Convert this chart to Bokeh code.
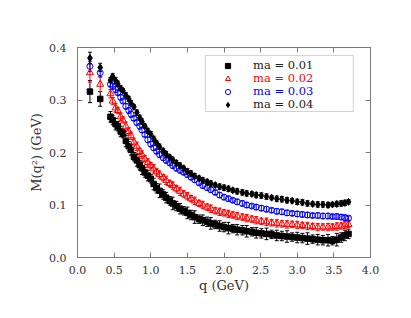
from bokeh.plotting import figure
from bokeh.models import (ColumnDataSource, Whisker, TeeHead, Legend, LegendItem,
                          LinearAxis, BoxAnnotation, Range1d, FixedTicker,
                          NumeralTickFormatter)
from bokeh.embed import file_html
from bokeh.resources import INLINE

# ---------------- data ----------------
q = [0.17, 0.31, 0.45, 0.48, 0.52, 0.55, 0.59, 0.62,
     0.66, 0.70, 0.73, 0.77, 0.81, 0.85, 0.88, 0.92,
     0.96, 1.00, 1.04, 1.08, 1.12, 1.17, 1.21, 1.26,
     1.30, 1.35, 1.40, 1.45, 1.50, 1.55, 1.60, 1.66,
     1.71, 1.77, 1.82, 1.88, 1.94, 2.00, 2.06, 2.12,
     2.18, 2.25, 2.31, 2.38, 2.44, 2.51, 2.58, 2.65,
     2.72, 2.79, 2.86, 2.93, 3.00, 3.07, 3.14, 3.21,
     3.28, 3.35, 3.42, 3.48, 3.54, 3.60, 3.65, 3.70]

m01 = [0.316, 0.302, 0.268, 0.262, 0.254, 0.250, 0.240, 0.236,
       0.222, 0.212, 0.205, 0.192, 0.185, 0.176, 0.170, 0.162,
       0.156, 0.150, 0.140, 0.132, 0.127, 0.120, 0.114, 0.108,
       0.103, 0.098, 0.093, 0.089, 0.085, 0.081, 0.077, 0.073,
       0.071, 0.068, 0.065, 0.063, 0.060, 0.058, 0.056, 0.055,
       0.053, 0.052, 0.050, 0.049, 0.047, 0.046, 0.045, 0.044,
       0.042, 0.041, 0.040, 0.039, 0.038, 0.037, 0.036, 0.035,
       0.034, 0.033, 0.033, 0.032, 0.034, 0.038, 0.042, 0.045]
e01 = [0.021, 0.014, 0.010, 0.009, 0.011, 0.009, 0.010, 0.008,
       0.011, 0.009, 0.010, 0.008, 0.011, 0.009, 0.012, 0.009,
       0.010, 0.008, 0.011, 0.009, 0.013, 0.009, 0.010, 0.008,
       0.012, 0.009, 0.010, 0.008, 0.011, 0.009, 0.012, 0.008,
       0.010, 0.009, 0.011, 0.008, 0.010, 0.009, 0.011, 0.008,
       0.010, 0.009, 0.011, 0.008, 0.010, 0.009, 0.011, 0.008,
       0.010, 0.009, 0.011, 0.008, 0.010, 0.009, 0.011, 0.008,
       0.010, 0.009, 0.011, 0.008, 0.012, 0.009, 0.010, 0.009]

m02 = [0.352, 0.330, 0.312, 0.298, 0.285, 0.280, 0.268, 0.262,
       0.250, 0.240, 0.232, 0.220, 0.212, 0.202, 0.196, 0.188,
       0.181, 0.175, 0.169, 0.163, 0.158, 0.152, 0.147, 0.141,
       0.137, 0.131, 0.126, 0.121, 0.117, 0.112, 0.108, 0.103,
       0.100, 0.096, 0.093, 0.089, 0.087, 0.085, 0.083, 0.081,
       0.079, 0.077, 0.075, 0.073, 0.071, 0.069, 0.068, 0.066,
       0.065, 0.064, 0.063, 0.063, 0.062, 0.061, 0.060, 0.059,
       0.058, 0.058, 0.058, 0.058, 0.059, 0.060, 0.062, 0.063]
e02 = [0.018, 0.014, 0.008, 0.007, 0.008, 0.006, 0.007, 0.006,
       0.008, 0.007, 0.007, 0.006, 0.008, 0.006, 0.007, 0.006,
       0.007, 0.006, 0.008, 0.006, 0.007, 0.006, 0.008, 0.006,
       0.007, 0.006, 0.008, 0.006, 0.007, 0.006, 0.007, 0.006,
       0.007, 0.006, 0.007, 0.006, 0.007, 0.006, 0.007, 0.006,
       0.007, 0.006, 0.007, 0.006, 0.007, 0.006, 0.007, 0.006,
       0.007, 0.006, 0.007, 0.006, 0.007, 0.006, 0.007, 0.006,
       0.007, 0.006, 0.007, 0.006, 0.007, 0.006, 0.007, 0.006]

m03 = [0.364, 0.352, 0.330, 0.326, 0.320, 0.314, 0.305, 0.298,
       0.288, 0.280, 0.273, 0.265, 0.257, 0.250, 0.243, 0.234,
       0.224, 0.216, 0.209, 0.202, 0.196, 0.190, 0.185, 0.180,
       0.175, 0.170, 0.166, 0.162, 0.158, 0.153, 0.148, 0.142,
       0.137, 0.133, 0.129, 0.124, 0.119, 0.115, 0.112, 0.109,
       0.106, 0.103, 0.100, 0.098, 0.096, 0.094, 0.092, 0.090,
       0.088, 0.087, 0.085, 0.084, 0.083, 0.082, 0.081, 0.080,
       0.080, 0.079, 0.079, 0.078, 0.078, 0.077, 0.076, 0.075]
e03 = [0.010, 0.008, 0.005, 0.005, 0.006, 0.005, 0.005, 0.004,
       0.005, 0.005, 0.006, 0.004, 0.005, 0.005, 0.005, 0.004,
       0.005, 0.005, 0.005, 0.004, 0.005, 0.005, 0.005, 0.004,
       0.005, 0.005, 0.005, 0.004, 0.005, 0.005, 0.005, 0.004,
       0.005, 0.005, 0.005, 0.004, 0.005, 0.005, 0.005, 0.004,
       0.005, 0.005, 0.005, 0.004, 0.005, 0.005, 0.005, 0.004,
       0.005, 0.005, 0.005, 0.004, 0.005, 0.005, 0.005, 0.004,
       0.005, 0.005, 0.005, 0.004, 0.005, 0.005, 0.005, 0.004]

m04 = [0.380, 0.362, 0.338, 0.345, 0.337, 0.331, 0.322, 0.318,
       0.309, 0.302, 0.294, 0.287, 0.276, 0.266, 0.259, 0.250,
       0.241, 0.235, 0.226, 0.218, 0.211, 0.203, 0.197, 0.191,
       0.186, 0.180, 0.175, 0.170, 0.164, 0.160, 0.155, 0.151,
       0.147, 0.144, 0.141, 0.138, 0.135, 0.133, 0.131, 0.128,
       0.126, 0.124, 0.122, 0.121, 0.119, 0.118, 0.116, 0.114,
       0.112, 0.111, 0.109, 0.108, 0.106, 0.105, 0.103, 0.102,
       0.101, 0.101, 0.100, 0.101, 0.102, 0.103, 0.104, 0.106]
e04 = [0.011, 0.008, 0.005, 0.005, 0.006, 0.005, 0.005, 0.004,
       0.005, 0.005, 0.005, 0.004, 0.005, 0.005, 0.005, 0.004,
       0.005, 0.005, 0.005, 0.004, 0.005, 0.005, 0.005, 0.004,
       0.005, 0.005, 0.005, 0.004, 0.005, 0.005, 0.005, 0.004,
       0.005, 0.005, 0.005, 0.004, 0.005, 0.005, 0.005, 0.004,
       0.005, 0.005, 0.005, 0.004, 0.005, 0.005, 0.005, 0.004,
       0.005, 0.005, 0.005, 0.004, 0.005, 0.005, 0.005, 0.004,
       0.005, 0.005, 0.005, 0.004, 0.005, 0.005, 0.005, 0.004]

labels = ["ma = 0.01", "ma = 0.02", "ma = 0.03", "ma = 0.04"]
x_ticks = [0.0, 0.5, 1.0, 1.5, 2.0, 2.5, 3.0, 3.5, 4.0]
y_ticks = [0.0, 0.1, 0.2, 0.3, 0.4]
x_title = "q (GeV)"
y_title = "M(q²) (GeV)"

# ---------------- figure ----------------
SERIF = "DejaVu Serif"
GRAY = "#7a7a7a"
TXT = "#333333"
W, H = 403, 310

p = figure(width=W, height=H, output_backend="svg", toolbar_location=None,
           x_range=Range1d(0, 4), y_range=Range1d(0, 0.4),
           min_border_left=77, min_border_right=33, min_border_top=47,
           min_border_bottom=53)
p.xgrid.visible = False
p.ygrid.visible = False
p.outline_line_color = GRAY
p.background_fill_color = "white"

for ax in (p.xaxis[0], p.yaxis[0]):
    ax.axis_line_color = GRAY
    ax.major_tick_line_color = GRAY
    ax.major_tick_in = 5
    ax.major_tick_out = 0
    ax.minor_tick_line_color = None
    ax.major_label_text_font = SERIF
    ax.major_label_text_font_size = "11px"
    ax.major_label_text_color = TXT
    ax.formatter = NumeralTickFormatter(format="0.0")
    ax.axis_label_text_font = SERIF
    ax.axis_label_text_font_size = "13px"
    ax.axis_label_text_font_style = "normal"
    ax.axis_label_text_color = TXT
p.xaxis.ticker = FixedTicker(ticks=x_ticks)
p.yaxis.ticker = FixedTicker(ticks=y_ticks)
p.xaxis.major_label_standoff = 8
p.yaxis.major_label_standoff = 11
p.xaxis.axis_label = x_title
p.yaxis.axis_label = y_title
p.xaxis.axis_label_standoff = 1
p.yaxis.axis_label_standoff = 2

top = LinearAxis(ticker=FixedTicker(ticks=x_ticks), major_label_text_color=None,
                 axis_line_color=GRAY, major_tick_line_color=GRAY, major_tick_in=5,
                 major_tick_out=0, minor_tick_line_color=None)
right = LinearAxis(ticker=FixedTicker(ticks=y_ticks), major_label_text_color=None,
                   axis_line_color=GRAY, major_tick_line_color=GRAY, major_tick_in=5,
                   major_tick_out=0, minor_tick_line_color=None)
p.add_layout(top, "above")
p.add_layout(right, "right")

series = [
    (m01, e01, "square", "black", "black", 5.5, "black"),
    (m02, e02, "triangle", None, "red", 7, "red"),
    (m03, e03, "circle", None, "blue", 6, "blue"),
    (m04, e04, "diamond", "black", "black", 7, "black"),
]

renderers = []
for vals, errs, marker, fill, line, size, ecol in series:
    src = ColumnDataSource(dict(q=q, v=vals,
                                lo=[a - b for a, b in zip(vals, errs)],
                                up=[a + b for a, b in zip(vals, errs)]))
    w = Whisker(source=src, base="q", lower="lo", upper="up", dimension="height",
                line_color=ecol, line_width=1,
                upper_head=TeeHead(size=4, line_color=ecol, line_width=1),
                lower_head=TeeHead(size=4, line_color=ecol, line_width=1))
    p.add_layout(w)
    r = p.scatter("q", "v", source=src, marker=marker, size=size,
                  fill_color=fill, line_color=line, line_width=1)
    renderers.append(r)

# legend box
p.add_layout(BoxAnnotation(left=1.746, right=3.765, bottom=0.278, top=0.385,
                           fill_alpha=0, line_color="#666666", line_width=1))

leg_colors = ["#222222", "red", "blue", "#222222"]
leg_y = [185, 172, 159, 146]
for r, lab, col, ly in zip(renderers, labels, leg_colors, leg_y):
    lg = Legend(items=[LegendItem(label=lab, renderers=[r])], location=(144, ly),
                padding=0, margin=0, spacing=0, glyph_width=13, glyph_height=13,
                label_height=13, label_standoff=19, border_line_color=None,
                background_fill_alpha=0, label_text_font=SERIF,
                label_text_font_size="11.5px", label_text_color=col)
    p.add_layout(lg, "center")

open("out.html", "w").write(file_html(p, INLINE))
